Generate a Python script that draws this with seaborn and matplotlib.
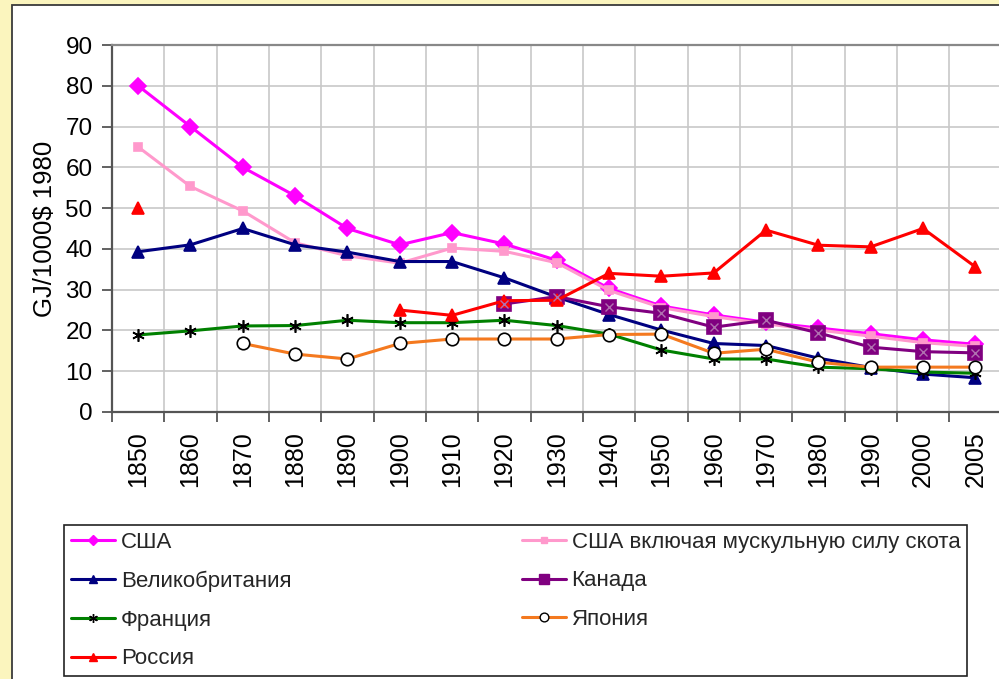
import numpy as np
import pandas as pd
import matplotlib
matplotlib.use("Agg")
import matplotlib.pyplot as plt
from matplotlib.lines import Line2D
from matplotlib.patches import Rectangle
import seaborn as sns

# categories and values (None = no data)
years = ['1850', '1860', '1870', '1880', '1890', '1900', '1910', '1920', '1930',
         '1940', '1950', '1960', '1970', '1980', '1990', '2000', '2005']
usa = [80, 70, 60, 53, 45, 41, 44, 41.2, 37.2, 30.3, 26, 23.8, 22, 20.6, 19.2, 17.7, 16.6]
usa_livestock = [65, 55.3, 49.3, 41.5, 38.3, 36.5, 40.2, 39.4, 36.6, 29.8, 25.6, 23.4, 21.6, 20.1, 18.6, 17, 16.1]
uk = [39.3, 41, 45, 41, 39.2, 36.9, 36.9, 32.9, 28.2, 23.9, 20.1, 16.8, 16.3, 13.2, 10.9, 9.3, 8.4]
canada = [None, None, None, None, None, None, None, 26.5, 28.3, 25.8, 24.2, 20.8, 22.5, 19.4, 15.9, 14.8, 14.5]
france = [18.9, 19.9, 21.1, 21.2, 22.5, 21.9, 21.9, 22.5, 21.2, 19.1, 15.2, 13, 13, 11, 10.6, 9.8, 9.5]
japan = [None, None, 16.8, 14.2, 13, 16.8, 17.9, 17.9, 17.9, 19, 19.1, 14.4, 15.4, 12.2, 11, 11, 11]
russia = [50, None, None, None, None, 25, 23.7, 27.3, 27.4, 34, 33.3, 34.1, 44.6, 40.9, 40.5, 45, 35.6]

labels = ['США', 'США включая мускульную силу скота', 'Великобритания', 'Канада',
          'Франция', 'Япония', 'Россия']
values = [usa, usa_livestock, uk, canada, france, japan, russia]

# drawing styles, same order as labels
styles = [
    dict(color='#FF00FF', marker='D', ms=8, mfc='#FF00FF', mec='#FF00FF'),
    dict(color='#FF99CC', marker='s', ms=6, mfc='#FF99CC', mec='#FF99CC'),
    dict(color='#000080', marker='^', ms=9, mfc='#000080', mec='#000080'),
    dict(color='#800080', marker='s', ms=10, mfc='#800080', mec='#800080'),
    dict(color='#008000', marker=(6, 2, 0), ms=9, mfc='black', mec='black'),
    dict(color='#F4791F', marker='o', ms=9, mfc='white', mec='black'),
    dict(color='#FF0000', marker='^', ms=9, mfc='#FF0000', mec='#FF0000'),
]

sns.set_theme(style="white")
plt.rcParams['font.family'] = ['Liberation Sans', 'DejaVu Sans']

W, H = 999, 679
fig = plt.figure(figsize=(W / 100, H / 100), dpi=100)
fig.patch.set_facecolor('#FBF5BE')
fig.add_artist(Rectangle((12 / W, -0.01), 1.0, 1 - 5 / H + 0.01, transform=fig.transFigure,
                         facecolor='white', edgecolor='#3A3A3A', lw=1.3, zorder=0))

left, right, top, bottom = 112, 1001.5, 45, 412
ax = fig.add_axes([left / W, 1 - bottom / H, (right - left) / W, (bottom - top) / H])
ax.set_facecolor('white')

pos = np.arange(len(years))
for lab, vals, st in zip(labels, values, styles):
    s = pd.Series(vals, index=pos, dtype=float)
    run_id = s.isna().cumsum()
    for _, part in s.dropna().groupby(run_id[s.notna()]):
        sns.lineplot(x=part.index.values, y=part.values, ax=ax, color=st['color'], lw=2.2,
                     marker=st['marker'], markersize=st['ms'], markerfacecolor=st['mfc'],
                     markeredgecolor=st['mec'], markeredgewidth=1.2, zorder=3)
    if lab == 'Канада':
        # faint cross inside the square markers
        sns.lineplot(x=s.dropna().index.values, y=s.dropna().values, ax=ax, lw=0,
                     marker='x', markersize=6, markeredgecolor='#B070B0',
                     markeredgewidth=1, zorder=4)

ax.set_xlim(-0.5, len(years) - 0.5)
ax.set_ylim(0, 90)
ax.set_yticks(np.arange(0, 91, 10))
ax.set_xticks(pos)
ax.set_xticklabels(years, rotation=90, fontsize=18, color='black')
ax.set_xticks(np.arange(-0.5, len(years), 1), minor=True)
ax.tick_params(axis='x', which='major', length=0, pad=14)
ax.tick_params(axis='x', which='minor', length=7, width=1.3, color='#555555', direction='out',
               bottom=True)
ax.tick_params(axis='y', which='major', length=7, width=1.3, color='#555555', direction='out',
               left=True, pad=7, labelsize=17.5, labelcolor='black')

ax.grid(which='minor', axis='x', color='#C8C8C8', lw=1.2)
ax.grid(which='major', axis='y', color='#C8C8C8', lw=1.2)
ax.grid(which='major', axis='x', visible=False)
ax.set_axisbelow(True)

for side in ['left', 'bottom']:
    ax.spines[side].set_color('#555555')
    ax.spines[side].set_linewidth(1.6)
ax.spines['top'].set_color('#888888')
ax.spines['top'].set_linewidth(1.6)
ax.spines['right'].set_visible(False)

ax.set_xlabel('')
ax.set_ylabel('GJ/1000$ 1980', fontsize=18.5, color='black')
ax.yaxis.set_label_coords((57 - left) / (right - left), 0.5)

# legend: column-first order
order = [0, 2, 4, 6, 1, 3, 5]
handles = []
for i in order:
    st = styles[i]
    handles.append(Line2D([], [], color=st['color'], lw=2.2, marker=st['marker'],
                          markersize=st['ms'] * 0.7, markerfacecolor=st['mfc'],
                          markeredgecolor=st['mec']))
leg = fig.legend(handles, [labels[i] for i in order], loc='upper left',
                 bbox_to_anchor=(64 / W, 1 - 678 / H, 903 / W, 153 / H), mode='expand',
                 ncol=2, frameon=True, fancybox=False, edgecolor='#222222', fontsize=16,
                 framealpha=1, handlelength=2.0, handletextpad=0.25, labelspacing=0.8,
                 borderpad=0.3, borderaxespad=0)
leg.get_frame().set_linewidth(1.2)

fig.savefig("out.png", dpi=100, facecolor=fig.get_facecolor())
